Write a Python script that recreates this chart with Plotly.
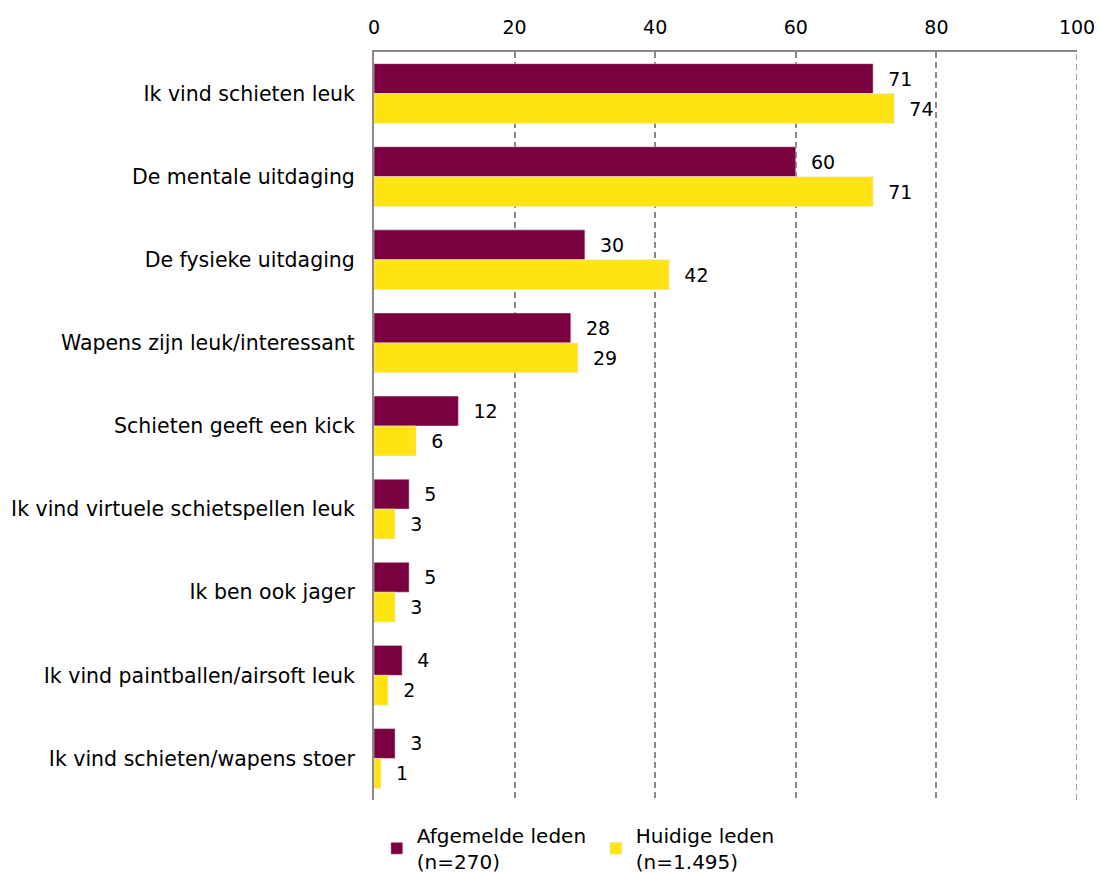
import plotly.graph_objects as go

categories = [
    "Ik vind schieten leuk",
    "De mentale uitdaging",
    "De fysieke uitdaging",
    "Wapens zijn leuk/interessant",
    "Schieten geeft een kick",
    "Ik vind virtuele schietspellen leuk",
    "Ik ben ook jager",
    "Ik vind paintballen/airsoft leuk",
    "Ik vind schieten/wapens stoer",
]
afgemeld = [71, 60, 30, 28, 12, 5, 5, 4, 3]
huidig = [74, 71, 42, 29, 6, 3, 3, 2, 1]
series_names = ["Afgemelde leden<br>(n=270)", "Huidige leden<br>(n=1.495)"]
tick_vals = [0, 20, 40, 60, 80, 100]

num_font = dict(family="DejaVu Sans", size=19, color="#000")
grid_color = "#8a8a8a"

fig = go.Figure()
fig.add_trace(go.Bar(
    y=categories, x=afgemeld, orientation="h", name=series_names[0],
    marker=dict(color="#7A003F"), text=afgemeld, texttemplate="  %{text}",
    textposition="outside", cliponaxis=False, textfont=num_font,
))
fig.add_trace(go.Bar(
    y=categories, x=huidig, orientation="h", name=series_names[1],
    marker=dict(color="#FFE313"), text=huidig, texttemplate="  %{text}",
    textposition="outside", cliponaxis=False, textfont=num_font,
))

fig.update_layout(
    width=1100, height=873,
    barmode="group", bargap=0.28, bargroupgap=0,
    plot_bgcolor="white", paper_bgcolor="white",
    margin=dict(l=374, r=23, t=52, b=73, autoexpand=False),
    font=dict(family="DejaVu Sans", size=19, color="#000"),
    showlegend=True,
    legend=dict(orientation="h", x=0.004, xanchor="left", y=-0.108, yanchor="bottom",
                font=dict(size=20), traceorder="normal", itemwidth=30,
                entrywidth=174, tracegroupgap=0),
)
fig.update_xaxes(
    side="top", range=[0, 100], tickvals=tick_vals, automargin=False,
    showgrid=True, gridcolor=grid_color, griddash="6px,4px", gridwidth=1.6,
    showline=True, linecolor=grid_color, linewidth=2,
    zeroline=False, ticks="", ticklabelstandoff=8,
    tickfont=dict(family="DejaVu Sans", size=19),
)
fig.update_yaxes(
    autorange="reversed", showline=True, linecolor=grid_color, linewidth=2,
    showgrid=False, ticks="", ticklabelstandoff=13, automargin=False,
    tickfont=dict(size=20.5),
)
fig.add_vline(x=tick_vals[-1], line=dict(color=grid_color, dash="6px,4px", width=1.6),
              layer="below")

fig.write_html("out.html", config={"displayModeBar": False},
               post_script="document.body.style.margin='0';")
